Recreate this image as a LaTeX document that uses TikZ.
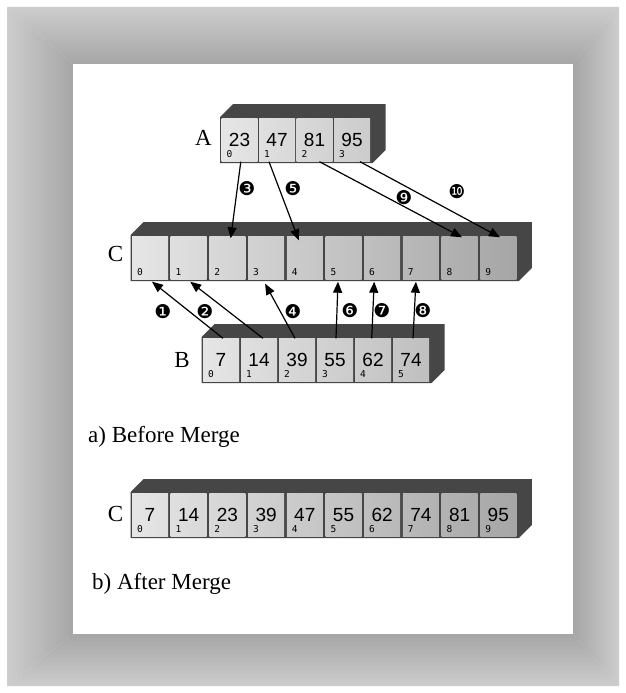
\documentclass[tikz,border=0pt]{standalone}
\usepackage{fontspec}
\setmainfont{Liberation Serif}
\newfontfamily\valfont{Liberation Sans}
\newfontfamily\idxfont{DejaVu Sans Mono}
\newfontfamily\stepfont{DejaVu Sans}
\usetikzlibrary{arrows.meta, calc}
\definecolor{frameLight}{HTML}{CDCDCD}
\definecolor{frameDark}{HTML}{A6A6A6}
\definecolor{boxDark}{HTML}{464646}

% array box: name, left x, top y, pitch, cell count, values
\newcommand{\drawarray}[6]{%
  \pgfmathsetmacro{\rx}{#2+40+(#5-1)*#4}
  \fill[boxDark] (#2,#3+46) -- (#2,#3) -- ++(13,-13) -- (\rx+13,#3-13) -- (\rx+13,#3+33) -- (\rx,#3+46) -- cycle;
  \foreach \v [count=\i from 0] in {#6} {
    \pgfmathsetmacro{\cx}{#2+19.5+#4*\i}
    \pgfmathsetmacro{\lc}{10+2.5*\i}
    \pgfmathsetmacro{\rc}{12.5+2.5*\i}
    \node[cellbox, left color=black!\lc, right color=black!\rc] (#1\i) at (\cx,#3+23) {\v};
    \node[idxtext, anchor=base west] at ([xshift=5pt,yshift=4pt]#1\i.south west) {\i};
  }
}

\begin{document}
\begin{tikzpicture}[
    x=1pt, y=-1pt,
    cellbox/.style={rectangle, minimum width=36pt, minimum height=43pt, inner sep=0pt,
      font=\valfont\fontsize{19}{19}\selectfont},
    idxtext/.style={inner sep=0pt, font=\idxfont\fontsize{9.5}{9.5}\selectfont},
    namelabel/.style={inner sep=0pt, font=\fontsize{23}{26}\selectfont},
    steplabel/.style={inner sep=0pt, font=\stepfont\fontsize{19}{19}\selectfont},
    marr/.style={-{Triangle[length=11pt,width=9pt]}, line width=1.2pt}
  ]
  \useasboundingbox (0,0) rectangle (626,693);
  \fill[white] (0,0) rectangle (626,693);

  % frame
  \shade[top color=frameLight, bottom color=frameDark] (7,7) -- (619,7) -- (573,64) -- (73,64) -- cycle;
  \shade[top color=frameDark, bottom color=frameLight] (73,634) -- (573,634) -- (619,686) -- (7,686) -- cycle;
  \shade[left color=frameLight, right color=frameDark] (7,7) -- (73,64) -- (73,634) -- (7,686) -- cycle;
  \shade[left color=frameDark, right color=frameLight] (619,7) -- (619,686) -- (573,634) -- (573,64) -- cycle;
  \fill[white] (73,64) rectangle (573,634);

  % arrays
  \drawarray{A}{220}{117}{37.5}{4}{23,47,81,95}
  \drawarray{C}{130.5}{235}{38.7}{10}{,,,,,,,,,}
  \drawarray{B}{201.5}{337}{38}{6}{7,14,39,55,62,74}
  \drawarray{D}{130.5}{492}{38.7}{10}{7,14,23,39,47,55,62,74,81,95}

  \node[namelabel, anchor=east] (labA) at (212,138) {A};
  \node[namelabel, anchor=east] (labC) at (123.5,254) {C};
  \node[namelabel, anchor=east] (labB) at (190,360) {B};
  \node[namelabel, anchor=east] (labD) at (123.5,514) {C};

  \node[namelabel, anchor=base west] (capA) at (88,442) {a) Before Merge};
  \node[namelabel, anchor=base west] (capB) at (92,589) {b) After Merge};

  % merge steps
  \draw[marr] ([xshift=2pt]B0.north) -- ([xshift=2pt,yshift=-2pt]C0.south);
  \draw[marr] ([xshift=4pt]B1.north) -- ([xshift=1.5pt,yshift=-2pt]C1.south);
  \draw[marr] ([xshift=1.3pt]A0.south) -- ([xshift=3.3pt,yshift=-2pt]C2.north);
  \draw[marr] ([xshift=-2pt]B2.north) -- ([xshift=-1pt,yshift=-4pt]C3.south);
  \draw[marr] ([xshift=-8pt]A1.south) -- ([xshift=-6pt,yshift=-4pt]C4.north);
  \draw[marr] ([xshift=1pt]B3.north) -- ([xshift=-5.5pt,yshift=-2pt]C5.south);
  \draw[marr] ([xshift=-1.3pt]B4.north) -- ([xshift=-8pt,yshift=-2pt]C6.south);
  \draw[marr] ([xshift=2pt]B5.north) -- ([xshift=-5pt,yshift=-2pt]C7.south);
  \draw[marr] ([xshift=5pt]A2.south) -- ([xshift=2.4pt,yshift=-1pt]C8.north);
  \draw[marr] ([xshift=8pt]A3.south) -- ([xshift=1.7pt,yshift=-1pt]C9.north);

  \node[steplabel] (s1) at (163,312) {❶};
  \node[steplabel] (s2) at (205,312) {❷};
  \node[steplabel] (s3) at (247,189) {❸};
  \node[steplabel] (s4) at (293,312) {❹};
  \node[steplabel] (s5) at (293,189) {❺};
  \node[steplabel] (s6) at (350,311) {❻};
  \node[steplabel] (s7) at (382,311) {❼};
  \node[steplabel] (s8) at (423,311) {❽};
  \node[steplabel] (s9) at (404,198) {❾};
  \node[steplabel] (s10) at (457,192) {❿};
\end{tikzpicture}
\end{document}
